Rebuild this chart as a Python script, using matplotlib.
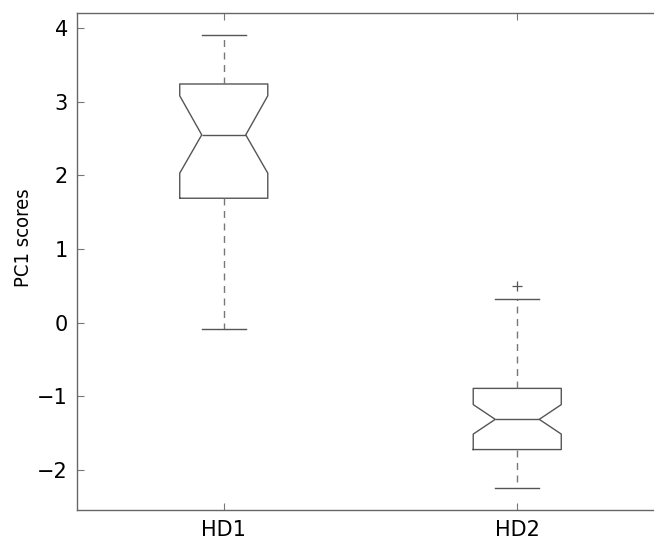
import matplotlib
matplotlib.use("Agg")
from matplotlib import pyplot as plt

# box statistics
groups = ['HD1', 'HD2']
whislo = [-0.08, -2.24]
q1 = [1.69, -1.72]
med = [2.55, -1.31]
q3 = [3.24, -0.89]
whishi = [3.90, 0.32]
ci_lo = [2.03, -1.51]
ci_hi = [3.08, -1.11]
outliers = [[], [0.50]]

stats = []
for i in range(len(groups)):
    stats.append(dict(label=groups[i], whislo=whislo[i], q1=q1[i], med=med[i],
                      q3=q3[i], whishi=whishi[i], cilo=ci_lo[i], cihi=ci_hi[i],
                      fliers=outliers[i]))

plt.rcParams['font.family'] = 'DejaVu Sans'
fig = plt.figure(figsize=(6.54, 5.42), dpi=100)
# right edge of the axes sits outside the picture, as in the reference
ax = fig.add_axes([77/654, 1 - 510/542, (664 - 77)/654, (510 - 12.5)/542])

col = '#555555'
ax.bxp(stats, positions=[1, 2], widths=0.3, shownotches=True,
       boxprops=dict(color=col, linewidth=1.0),
       medianprops=dict(color=col, linewidth=1.0),
       whiskerprops=dict(color='#777777', linewidth=1.0, linestyle=(0, (5, 4))),
       capprops=dict(color=col, linewidth=1.0),
       flierprops=dict(marker='+', markeredgecolor=col, markersize=7, markeredgewidth=0.9))

ax.set_xlim(0.5, 2.5)
ax.set_ylim(-2.54, 4.21)
ax.set_yticks([-2, -1, 0, 1, 2, 3, 4])
ax.set_yticklabels(['\u22122', '\u22121', '0', '1', '2', '3', '4'])
ax.set_xticks([1, 2])
ax.set_xticklabels(groups)
ax.tick_params(direction='in', top=True, right=True, length=5, color='#777777',
               labelsize=15)
ax.tick_params(axis='y', pad=6.5)
ax.tick_params(axis='x', pad=7)
for s in ax.spines.values():
    s.set_color('#666666')
    s.set_linewidth(1.0)
ax.set_ylabel('PC1 scores', fontsize=14.5, fontstretch='condensed')
# label sits a little above the middle of the axis in the reference
ax.yaxis.set_label_coords((33 - 77)/587, (510 - 238)/497.5)

fig.savefig('out.png', dpi=100)
